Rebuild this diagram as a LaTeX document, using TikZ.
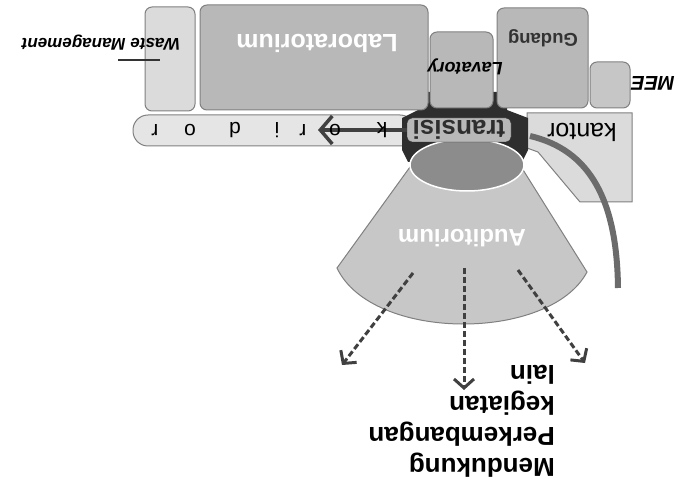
\documentclass[tikz,border=0pt]{standalone}
\usepackage{fontspec}
\setmainfont{Liberation Sans}
\usetikzlibrary{arrows.meta}
\definecolor{edgegray}{gray}{0.5}
\definecolor{roomlight}{gray}{0.86}
\definecolor{roommid}{gray}{0.72}
\definecolor{hallgray}{gray}{0.9}
\definecolor{fangray}{gray}{0.78}
\definecolor{domegray}{gray}{0.55}
\definecolor{hubdark}{gray}{0.18}
\definecolor{inkgray}{gray}{0.25}
\definecolor{pathgray}{gray}{0.42}

\begin{document}
\begin{tikzpicture}[x=1pt, y=-1pt,
  room/.style={draw=edgegray, line width=1pt, rounded corners=7pt, inner sep=0pt},
  upside/.style={rotate=180, inner sep=0pt},
  tag/.style={upside, font=\bfseries\itshape\fontsize{18}{18}\selectfont},
  darr/.style={draw=inkgray, line width=3pt, dash pattern=on 6pt off 3pt, -{Straight Barb[length=9pt, width=20pt]}},
  karr/.style={draw=inkgray, line width=3.5pt, -{Straight Barb[length=12pt, width=28pt]}}
]
\useasboundingbox (0,0) rectangle (681,484);

% corridor and office
\node[room, fill=hallgray, rounded corners=15pt, minimum width=282pt, minimum height=31pt] (hall) at (274,130.5) {};
\draw[edgegray, line width=1pt, fill=roomlight] (527,113) -- (632,113) -- (632,202) -- (580,202) -- (538,152) -- (527,148) -- cycle;
\coordinate (curveA) at (530,136);
\coordinate (curveB) at (618,288);
\draw[pathgray, line width=6pt] (curveA) .. controls (590,150) and (617,200) .. (curveB);

% auditorium fan
\draw[edgegray, line width=1pt, fill=fangray] (410,167) -- (337,268) .. controls (372,342) and (550,342) .. (587,272) -- (520,165) -- cycle;

% dark hub under the rooms
\fill[hubdark] (418,92) -- (507,92) -- (507,110) -- (528,118) -- (528,150) -- (522,162) -- (408,162) -- (402,150) -- (402,118) -- (418,110) -- cycle;

% rooms
\node[room, fill=roomlight, minimum width=50pt, minimum height=104pt] (waste) at (170,59) {};
\node[room, fill=roommid, minimum width=228pt, minimum height=105pt] (lab) at (314,57.5) {};
\node[room, fill=roommid, minimum width=63pt, minimum height=76pt] (lav) at (461.5,70) {};
\node[room, fill=roommid, minimum width=91pt, minimum height=100pt] (gudang) at (542.5,58) {};
\node[room, fill=roommid!80!white, minimum width=40pt, minimum height=46pt] (mee) at (610,85) {};

% dome and transition band
\draw[white, line width=1.5pt, fill=domegray] (467,165) ellipse [x radius=57pt, y radius=26pt];
\node[upside, draw=hubdark, fill=roommid, rounded corners=5pt, minimum width=104pt, minimum height=24pt,
  font=\bfseries\fontsize{26}{26}\selectfont, text=hubdark] (band) at (459,130) {transisi};

% labels
\node[upside, text=white, font=\bfseries\fontsize{25}{25}\selectfont] (labtext) at (317,43) {Laboratorium};
\node[upside, text=black!80, font=\bfseries\fontsize{18.5}{18.5}\selectfont] (gudtext) at (543,38) {Gudang};
\node[tag] (lavtext) at (465,67) {Lavatory};
\node[tag, font=\bfseries\itshape\fontsize{20}{20}\selectfont] (meetext) at (653,83) {MEE};
\node[tag, font=\bfseries\itshape\fontsize{17}{17}\selectfont] (wastetext) at (101,43) {Waste Management};
\node[upside, font=\fontsize{25}{25}\selectfont] (kantortext) at (582,132) {kantor};
\node[upside, text=white, font=\bfseries\fontsize{24}{24}\selectfont] (auditext) at (462,238) {Auditorium};
\node[upside, font=\bfseries\fontsize{26}{31}\selectfont, align=left, anchor=north west] (goal) at (555,478)
  {Mendukung\\Perkembangan\\kegiatan\\lain};

% leader to waste room
\coordinate (wlead) at (118,60);
\coordinate (wleadend) at (160,60);
\draw[black!80, line width=1.5pt] (wlead) -- (wleadend);

% corridor arrow and letters
\coordinate (kortip) at (318,130);
\draw[karr] (band.east) -- (kortip);
\foreach \ch/\px in {k/382, o/335, r/303, i/277, d/235, o/190, r/155}
  \node[upside, font=\fontsize{21}{21}\selectfont] (kor\px) at (\px,130) {\ch};

% outgoing dashed arrows
\coordinate (fanL) at (413,273);
\coordinate (fanM) at (464,268);
\coordinate (fanR) at (518,270);
\coordinate (outL) at (342,365);
\coordinate (outM) at (464,390);
\coordinate (outR) at (585,363);
\draw[darr] (fanL) -- (outL);
\draw[darr] (fanM) -- (outM);
\draw[darr] (fanR) -- (outR);
\end{tikzpicture}
\end{document}
